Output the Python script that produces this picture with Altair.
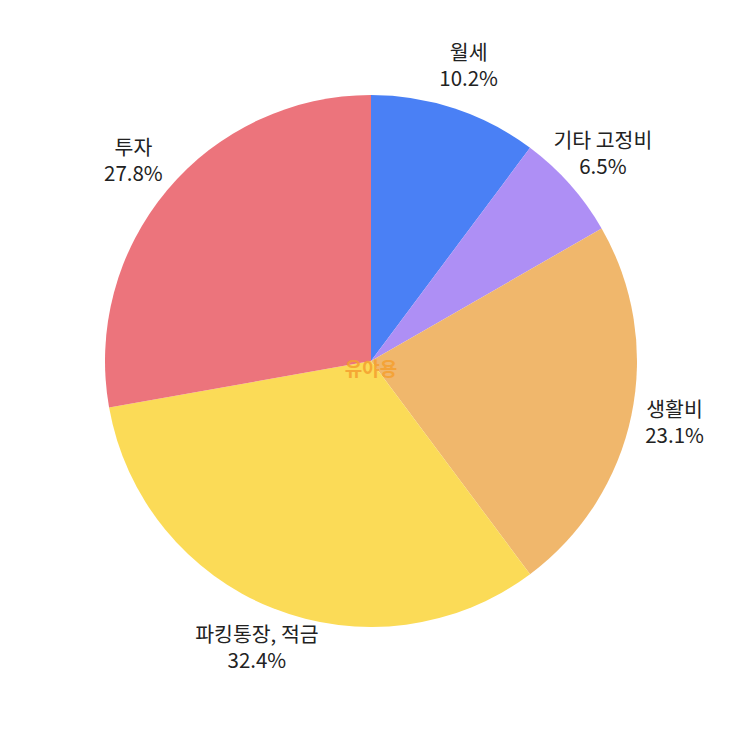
import altair as alt
import pandas as pd

categories = ["월세", "기타 고정비", "생활비", "파킹통장, 적금", "투자"]
values = [10.2, 6.5, 23.1, 32.4, 27.8]
colors = ["#4a80f5", "#ae8ff5", "#f0b76c", "#fbdb57", "#ec747c"]

df = pd.DataFrame({
    "category": categories,
    "value": values,
    "order": list(range(len(categories))),
    "pct": [f"{v:.1f}%" for v in values],
})

base = alt.Chart(df).encode(
    theta=alt.Theta("value:Q", stack=True),
    order=alt.Order("order:Q"),
)

pie = base.mark_arc(outerRadius=266).encode(
    color=alt.Color("category:N", scale=alt.Scale(domain=categories, range=colors), legend=None),
)

name_text = base.mark_text(
    radius=310, fontSize=20.5, dy=-13,
    font="Noto Sans CJK KR", color="#222222",
).encode(text="category:N")

pct_text = base.mark_text(
    radius=310, fontSize=20.5, dy=13,
    font="Noto Sans CJK KR", color="#222222",
).encode(text="pct:N")

wm = alt.Chart(pd.DataFrame({"t": ["유야용"]})).mark_text(
    fontSize=19, font="Noto Sans CJK KR", color="#f5a030", opacity=0.85, fontWeight="bold",
).encode(text="t:N", x=alt.value(363), y=alt.value(362))

chart = (pie + name_text + pct_text + wm).properties(
    width=726, height=706, padding=0, autosize="none", background="white"
).configure_view(stroke=None)

chart.save("out.html", embed_options={"renderer": "svg", "actions": False})
